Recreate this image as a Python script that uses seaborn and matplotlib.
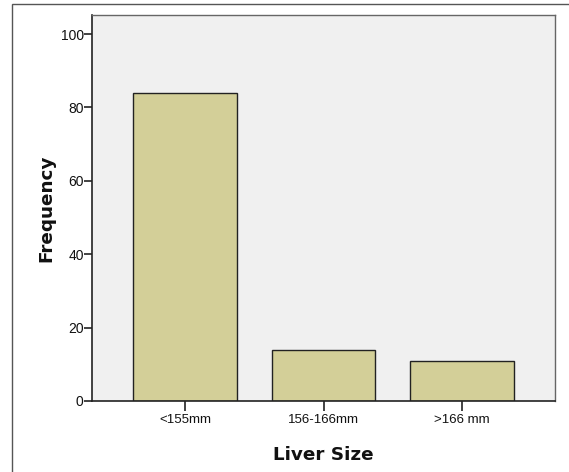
import matplotlib
matplotlib.use('Agg')
import matplotlib.pyplot as plt
import seaborn as sns
import pandas as pd
from matplotlib.patches import Rectangle

# Data
categories = ['<155mm', '156-166mm', '>166 mm']
frequency = [84, 14, 11]

df = pd.DataFrame({'size': categories, 'freq': frequency})

sns.set_style('white')
plt.rcParams['font.family'] = ['Liberation Sans', 'DejaVu Sans']

fig = plt.figure(figsize=(5.69, 4.72), dpi=100)
fig.patch.set_facecolor('white')
# outer frame like the SPSS output box
fig.add_artist(Rectangle((12 / 569, -0.01), 1.0, (472 - 4) / 472 + 0.01,
                         transform=fig.transFigure, fill=False,
                         edgecolor='#555555', linewidth=1.0))

ax = fig.add_axes([92 / 569, 71 / 472, (555 - 92) / 569, (401 - 15) / 472])
ax.set_facecolor('#F0F0F0')

sns.barplot(data=df, x='size', y='freq', color='#D3CF98', edgecolor='#222222',
            linewidth=1.0, width=0.75, saturation=1, ax=ax)

ax.set_xlim(-0.67, 2.67)
ax.set_ylim(0, 105.2)
ax.set_yticks([0, 20, 40, 60, 80, 100])

for side in ['left', 'bottom']:
    ax.spines[side].set_color('#222222')
    ax.spines[side].set_linewidth(1.2)
for side in ['top', 'right']:
    ax.spines[side].set_color('#666666')
    ax.spines[side].set_linewidth(1.0)

ax.tick_params(axis='x', direction='out', length=7, width=1.2,
               bottom=True, color='#222222',
               labelsize=9.5, labelcolor='#111111', pad=2.5)
ax.tick_params(axis='y', direction='out', length=5.5, width=1.2,
               left=True, color='#222222',
               labelsize=10, labelcolor='#111111', pad=0.5)

ax.set_xlabel('Liver Size', fontsize=13.2, fontweight='bold',
              family='DejaVu Sans', labelpad=14, color='#111111')
ax.set_ylabel('Frequency', fontsize=13.2, fontweight='bold',
              family='DejaVu Sans', labelpad=4, color='#111111')

plt.savefig('out.png', dpi=100)
plt.close()
